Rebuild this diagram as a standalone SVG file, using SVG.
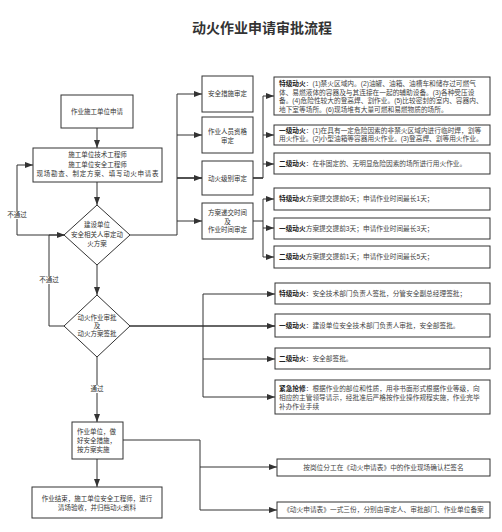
<svg xmlns="http://www.w3.org/2000/svg" width="502" height="532" viewBox="0 0 502 532">
<style>
text{font-family:"Liberation Sans","Noto Sans CJK SC",sans-serif;fill:#333;}
.t{font-size:6.5px;text-anchor:middle;}
.l{font-size:6.5px;}
.r{font-size:6.7px;fill:#444;}
.c{font-size:6.7px;fill:#444;text-anchor:middle;}
.b{font-weight:bold;fill:#222;}
.box{fill:#fff;stroke:#333;stroke-width:1;}
.ln{fill:none;stroke:#333;stroke-width:1;}
.tk{fill:none;stroke:#333;stroke-width:1.7;}
.a{marker-end:url(#ar);}
.bg{fill:#fff;}
</style>
<defs>
<marker id="ar" viewBox="0 0 8 6" refX="8" refY="3" markerWidth="8" markerHeight="6" markerUnits="userSpaceOnUse" orient="auto">
<path d="M0,0 L8,3 L0,6 z" fill="#333"/>
</marker>
</defs>
<rect width="502" height="532" fill="#fff"/>
<text x="262" y="33" style="font-size:14px;font-weight:bold;text-anchor:middle;fill:#333">动火作业申请审批流程</text>

<g id="connectors">
<path class="ln a" d="M97,128 V148"/>
<path class="ln a" d="M97,182 V205"/>
<path class="ln a" d="M65,235 H17 V165 H33"/>
<path class="ln a" d="M65,326 H49 V235 H65"/>
<path class="ln a" d="M97,265 V295"/>
<path class="ln a" d="M97,357 V422"/>
<path class="ln a" d="M97,459 V487"/>
<path class="ln" d="M130,235 H177 V94"/>
<path class="ln a" d="M177,94 H202"/>
<path class="ln a" d="M177,135 H202"/>
<path class="tk a" d="M177,178 H202"/>
<path class="ln a" d="M177,221 H202"/>
<path class="tk" d="M253,178 H263"/>
<path class="ln" d="M263,178 V96"/>
<path class="ln a" d="M263,96 H274"/>
<path class="ln a" d="M263,135 H274"/>
<path class="ln a" d="M263,164 H274"/>
<path class="ln" d="M253,221 H263 M263,199 V257"/>
<path class="ln a" d="M263,199 H274"/>
<path class="ln a" d="M263,228 H274"/>
<path class="ln a" d="M263,257 H274"/>
<path class="tk a" d="M130,326 H275"/>
<path class="ln" d="M203,294 V397"/>
<path class="ln a" d="M203,294 H275"/>
<path class="ln a" d="M203,359 H275"/>
<path class="ln a" d="M203,397 H275"/>
<path class="ln" d="M123,440 H200 V510"/>
<path class="ln a" d="M200,467 H277"/>
<path class="ln a" d="M200,510 H277"/>
<rect class="bg" x="6" y="211" width="22" height="8"/>
<text class="t" x="17" y="217.3">不通过</text>
<rect class="bg" x="38" y="276" width="22" height="8"/>
<text class="t" x="49" y="282.3">不通过</text>
<rect class="bg" x="89" y="385" width="16" height="8"/>
<text class="t" x="97" y="391.3">通过</text>
</g>

<g id="n-apply"><rect class="box" x="61" y="95" width="72" height="33"/><text class="t" x="97" y="114.3">作业施工单位申请</text></g>
<g id="n-survey"><rect class="box" x="33" y="148" width="129" height="34"/>
<text class="t" x="97.5" y="157.3">施工单位技术工程师</text>
<text class="t" x="97.5" y="167.3">施工单位安全工程师</text>
<text class="t" x="97.5" y="176.3" textLength="122" lengthAdjust="spacing">现场勘查、制定方案、填写动火申请表</text></g>
<g id="n-d1"><path class="box" d="M97,205 L130,235 L97,265 L64,235 z"/>
<text class="t" x="97" y="227.3">建设单位</text>
<text class="t" x="97" y="237.3">安全相关人审定动</text>
<text class="t" x="97" y="246.3">火方案</text></g>
<g id="n-d2"><path class="box" d="M97,295 L130,326 L97,357 L64,326 z"/>
<text class="t" x="97" y="320.3">动火作业审批</text>
<text class="t" x="97" y="328.3">及</text>
<text class="t" x="97" y="336.3">动火方案签批</text></g>
<g id="n-exec"><rect class="box" x="72" y="422" width="51" height="37"/>
<text class="l" x="77" y="434.3">作业单位，做</text>
<text class="l" x="77" y="443.3">好安全措施，</text>
<text class="l" x="77" y="452.3">按方案实施</text></g>
<g id="n-end"><rect class="box" x="32" y="487" width="130" height="31"/>
<text class="t" x="97" y="501.3">作业结束，施工单位安全工程师，进行</text>
<text class="t" x="97" y="510.3">清场验收，并归档动火资料</text></g>

<g id="n-m1"><rect class="box" x="202" y="76" width="51" height="36"/><text class="t" x="227.5" y="96.3">安全措施审定</text></g>
<g id="n-m2"><rect class="box" x="202" y="117" width="51" height="36"/><text class="t" x="227.5" y="134.3">作业人员资格</text><text class="t" x="227.5" y="143.3">审定</text></g>
<g id="n-m3"><rect class="box" x="202" y="161" width="51" height="34"/><text class="t" x="227.5" y="181.3">动火级别审定</text></g>
<g id="n-m4"><rect class="box" x="202" y="203" width="51" height="36"/><text class="t" x="227.5" y="215.3">方案递交时间</text><text class="t" x="227.5" y="224.3">及</text><text class="t" x="227.5" y="232.3">作业时间审定</text></g>

<g id="n-r1"><rect class="box" x="274" y="77" width="216" height="38"/>
<text class="r" x="279" y="86.3"><tspan class="b">特级动火</tspan>：(1)禁火区域内。(2)油罐、油箱、油槽车和储存过可燃气</text>
<text class="r" x="279" y="94.8">体、易燃液体的容器及与其连接在一起的辅助设备。(3)各种受压设</text>
<text class="r" x="279" y="103.3">备。(4)危险性较大的登高焊、割作业。(5)比较密封的室内、容器内、</text>
<text class="r" x="279" y="111.8">地下室等场所。(6)现场堆有大量可燃和易燃物质的场所。</text></g>
<g id="n-r2"><rect class="box" x="274" y="125" width="216" height="20"/>
<text class="r" x="279" y="133.3"><tspan class="b">一级动火</tspan>：(1)在具有一定危险因素的非禁火区域内进行临时焊，割等</text>
<text class="r" x="279" y="141.3">用火作业。(2)小型油箱等容器用火作业。(3)登高焊、割等用火作业。</text></g>
<g id="n-r3"><rect class="box" x="274" y="153" width="216" height="21"/>
<text class="r" x="279" y="166.3"><tspan class="b">二级动火</tspan>：在非固定的、无明显危险因素的场所进行用火作业。</text></g>

<g id="n-t1"><rect class="box" x="274" y="188" width="216" height="22"/>
<text class="r" x="279" y="201.3"><tspan class="b">特级动火</tspan>方案提交提前6天；申请作业时间最长1天；</text></g>
<g id="n-t2"><rect class="box" x="274" y="218" width="216" height="21"/>
<text class="r" x="279" y="230.8"><tspan class="b">一级动火</tspan>方案提交提前3天；申请作业时间最长3天；</text></g>
<g id="n-t3"><rect class="box" x="274" y="246" width="216" height="22"/>
<text class="r" x="279" y="259.3"><tspan class="b">二级动火</tspan>方案提交提前1天；申请作业时间最长5天；</text></g>

<g id="n-s1"><rect class="box" x="275" y="283" width="215" height="21"/>
<text class="r" x="279" y="296.3"><tspan class="b">特级动火</tspan>：安全技术部门负责人签批，分管安全副总经理签批；</text></g>
<g id="n-s2"><rect class="box" x="275" y="314" width="215" height="23"/>
<text class="r" x="279" y="328.3"><tspan class="b">一级动火</tspan>：建设单位安全技术部门负责人审批，安全部签批。</text></g>
<g id="n-s3"><rect class="box" x="275" y="348" width="215" height="21"/>
<text class="r" x="279" y="361.3"><tspan class="b">二级动火</tspan>：安全部签批。</text></g>
<g id="n-s4"><rect class="box" x="275" y="380" width="215" height="34"/>
<text class="r" x="279" y="391.3"><tspan class="b">紧急抢修</tspan>：根据作业的部位和性质，用非书面形式根据作业等级，向</text>
<text class="r" x="279" y="400.3">相应的主管领导请示，经批准后严格按作业操作规程实施，作业完毕</text>
<text class="r" x="279" y="409.3">补办作业手续</text></g>

<g id="n-sign"><rect class="box" x="277" y="459" width="213" height="17"/>
<text class="c" x="383.5" y="469.8">按岗位分工在《动火申请表》中的作业现场确认栏签名</text></g>
<g id="n-file"><rect class="box" x="277" y="502" width="213" height="16"/>
<text class="c" x="383.5" y="512.3">《动火申请表》一式三份，分别由审定人、审批部门、作业单位备案</text></g>
</svg>
